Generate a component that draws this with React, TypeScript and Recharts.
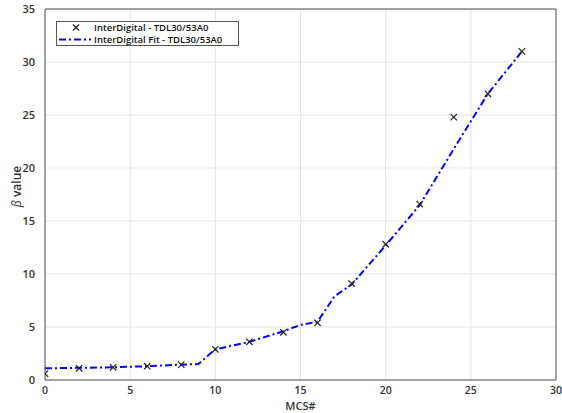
import React from "react";
import {
  ComposedChart,
  Line,
  Scatter,
  XAxis,
  YAxis,
  CartesianGrid,
  ReferenceLine,
} from "recharts";

const mcs = [0, 2, 4, 6, 8, 10, 12, 14, 16, 18, 20, 22, 24, 26, 28];
const measured = [0.6, 1.1, 1.2, 1.3, 1.45, 2.9, 3.6, 4.5, 5.4, 9.1, 12.8, 16.6, 24.8, 27.0, 31.0];

const fitMcs = [0, 2, 4, 6, 8, 9, 10, 12, 14, 15, 16, 17, 18, 20, 22, 24, 26, 28];
const fitValues = [1.1, 1.15, 1.2, 1.3, 1.45, 1.5, 2.9, 3.6, 4.6, 5.2, 5.5, 7.9, 9.0, 12.7, 16.5, 21.8, 27.0, 31.0];

const xTicks = [0, 5, 10, 15, 20, 25, 30];
const yTicks = [0, 5, 10, 15, 20, 25, 30, 35];

const scatterData = mcs.map((x, i) => ({ x, y: measured[i] }));
const fitData = fitMcs.map((x, i) => ({ x, y: fitValues[i] }));

const FONT = "'Open Sans', 'DejaVu Sans', sans-serif";

const XMark = (props: any) => {
  const { cx, cy } = props;
  if (cx == null || cy == null) return null;
  const s = 3.2;
  return (
    <g>
      <line x1={cx - s} y1={cy - s} x2={cx + s} y2={cy + s} stroke="#222" strokeWidth={1.2} />
      <line x1={cx - s} y1={cy + s} x2={cx + s} y2={cy - s} stroke="#222" strokeWidth={1.2} />
    </g>
  );
};

const XLabel = (props: any) => {
  const vb = props.viewBox || {};
  const cx = (vb.x || 0) + (vb.width || 0) / 2;
  return (
    <text x={cx} y={409.5} textAnchor="middle" fill="#333" fontSize={11} fontFamily={FONT} fontWeight={600}>
      MCS#
    </text>
  );
};

const YLabel = (props: any) => {
  const vb = props.viewBox || {};
  const cy = (vb.y || 0) + (vb.height || 0) / 2 - 8;
  return (
    <text
      x={21}
      y={cy}
      textAnchor="middle"
      transform={`rotate(-90, 21, ${cy})`}
      fill="#333"
      fontSize={12}
      fontFamily={FONT}
      fontWeight={600}
    >
      <tspan fontStyle="italic" fontWeight={400}>β</tspan>
      <tspan> value</tspan>
    </text>
  );
};

export default function App() {
  return (
    <div style={{ position: "absolute", left: 0, top: 0, width: 562, height: 413, background: "#fff" }}>
      <ComposedChart
        width={562}
        height={413}
        margin={{ top: 9, right: 6, bottom: 0, left: 5 }}
      >
        <CartesianGrid stroke="#e3e3e3" strokeWidth={1} />
        <XAxis
          dataKey="x"
          type="number"
          domain={[0, 30]}
          ticks={xTicks}
          allowDataOverflow
          height={33}
          stroke="#555"
          tickLine={false}
          tickMargin={1}
          tick={{ fill: "#333", fontSize: 10.5, fontFamily: FONT, fontWeight: 600 }}
          label={<XLabel />}
        />
        <YAxis
          dataKey="y"
          type="number"
          domain={[0, 35]}
          ticks={yTicks}
          allowDataOverflow
          width={40}
          stroke="#555"
          tickLine={false}
          tickMargin={4}
          tick={{ fill: "#333", fontSize: 11, fontFamily: FONT, fontWeight: 600 }}
          label={<YLabel />}
        />
        <ReferenceLine x={30} stroke="#555" />
        <ReferenceLine y={35} stroke="#555" />
        <Line
          data={fitData}
          dataKey="y"
          type="linear"
          stroke="#0000ff"
          strokeWidth={2}
          strokeDasharray="7 3 2 3"
          dot={false}
          isAnimationActive={false}
        />
        <Scatter
          data={scatterData}
          dataKey="y"
          shape={<XMark />}
          isAnimationActive={false}
        />
      </ComposedChart>
      <div
        style={{
          position: "absolute",
          left: 56,
          top: 21,
          width: 183,
          height: 25,
          border: "1px solid #555",
          background: "#fff",
          fontFamily: FONT,
          fontSize: 9.5,
          lineHeight: "11px",
          fontWeight: 600,
          color: "#111",
          boxSizing: "border-box",
        }}
      >
        <div style={{ position: "absolute", left: 0, top: 0, height: 11, width: 181, display: "flex", alignItems: "center" }}>
          <svg width={36} height={11} style={{ marginLeft: 1, flex: "none" }}>
            <line x1={15} y1={2.5} x2={21} y2={8.5} stroke="#222" strokeWidth={1.2} />
            <line x1={15} y1={8.5} x2={21} y2={2.5} stroke="#222" strokeWidth={1.2} />
          </svg>
          <span style={{ whiteSpace: "nowrap", lineHeight: "11px" }}>InterDigital - TDL30/53A0</span>
        </div>
        <div style={{ position: "absolute", left: 0, top: 11.5, height: 11, width: 181, display: "flex", alignItems: "center" }}>
          <svg width={36} height={11} style={{ marginLeft: 1, flex: "none" }}>
            <line x1={1} y1={5.5} x2={33} y2={5.5} stroke="#0000ff" strokeWidth={2} strokeDasharray="7 3 2 3" />
          </svg>
          <span style={{ whiteSpace: "nowrap", lineHeight: "11px" }}>InterDigital Fit - TDL30/53A0</span>
        </div>
      </div>
    </div>
  );
}
